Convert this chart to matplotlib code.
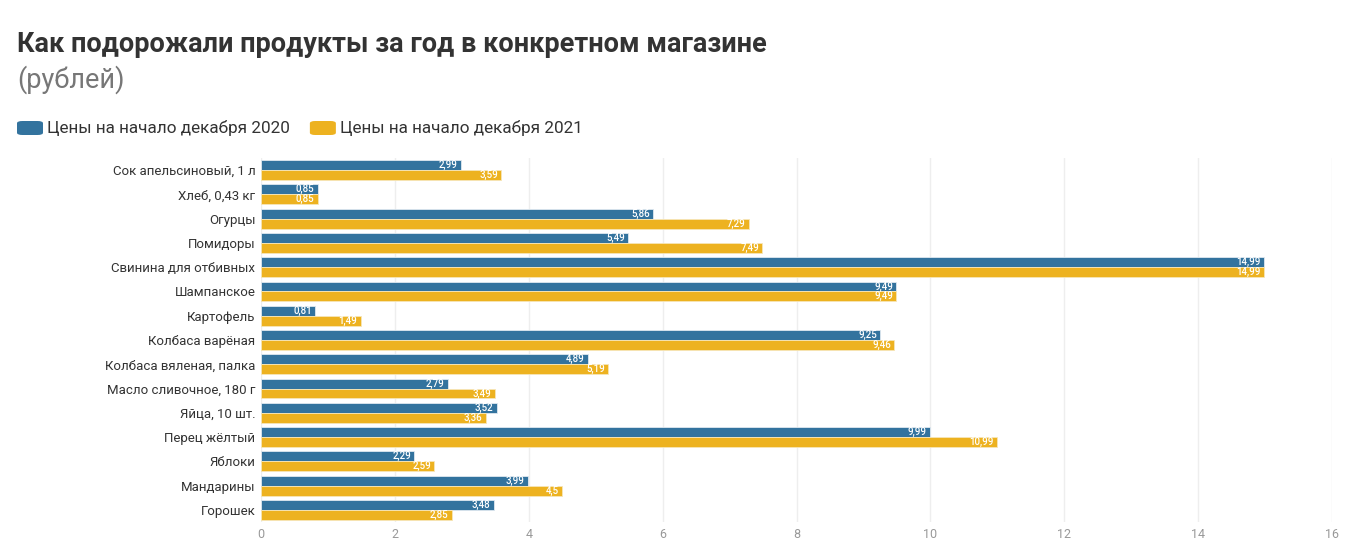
import numpy as np
import matplotlib.pyplot as plt
from matplotlib import font_manager
from matplotlib.patches import FancyBboxPatch

# Data
products = ['Сок апельсиновый, 1 л', 'Хлеб, 0,43 кг', 'Огурцы', 'Помидоры',
            'Свинина для отбивных', 'Шампанское', 'Картофель', 'Колбаса варёная',
            'Колбаса вяленая, палка', 'Масло сливочное, 180 г', 'Яйца, 10 шт.',
            'Перец жёлтый', 'Яблоки', 'Мандарины', 'Горошек']
prices_2020 = [2.99, 0.85, 5.86, 5.49, 14.99, 9.49, 0.81, 9.25, 4.89, 2.79, 3.52, 9.99, 2.29, 3.99, 3.48]
prices_2021 = [3.59, 0.85, 7.29, 7.49, 14.99, 9.49, 1.49, 9.46, 5.19, 3.49, 3.36, 10.99, 2.59, 4.5, 2.85]
series_names = ['Цены на начало декабря 2020', 'Цены на начало декабря 2021']
xticks = [0, 2, 4, 6, 8, 10, 12, 14, 16]

blue = '#33739e'
gold = '#edb220'
dark = '#333333'

names = {f.name for f in font_manager.fontManager.ttflist}
font = 'Liberation Sans Narrow' if 'Liberation Sans Narrow' in names else 'Roboto'
plt.rcParams['font.family'] = [font, 'DejaVu Sans']

W, H = 1354, 560
fig = plt.figure(figsize=(W / 100, H / 100), dpi=100)
ax = fig.add_axes([261 / W, 1 - 522 / H, (1332 - 261) / W, (522 - 158) / H])

y = np.arange(len(products))
h = 0.41
ax.barh(y - h / 2, prices_2020, height=h, color=blue, edgecolor='#dfe9f0', linewidth=0.6, zorder=3)
ax.barh(y + h / 2, prices_2021, height=h, color=gold, edgecolor='#f7e6b8', linewidth=0.6, zorder=3)

def fmt(v):
    return ('%g' % v).replace('.', ',')

for i in range(len(products)):
    ax.text(prices_2020[i] - 0.05, y[i] - h / 2, fmt(prices_2020[i]), ha='right', va='center',
            color='white', fontsize=7, fontweight='medium', zorder=4)
    ax.text(prices_2021[i] - 0.05, y[i] + h / 2, fmt(prices_2021[i]), ha='right', va='center',
            color='white', fontsize=7, fontweight='medium', zorder=4)

ax.set_xlim(0, 16)
ax.set_ylim(len(products) - 0.5, -0.5)
ax.set_yticks(y)
ax.set_yticklabels(products, fontsize=9.5, color=dark)
ax.set_xticks(xticks)
ax.set_xticklabels([str(t) for t in xticks], fontsize=9, color='#999999')
ax.tick_params(length=0, pad=4)
ax.grid(axis='x', color='#eeeeee', linewidth=1, zorder=0)
for s in ax.spines.values():
    s.set_visible(False)

fig.text(17 / W, 1 - 44 / H, 'Как подорожали продукты за год в конкретном магазине',
         fontsize=19.5, fontweight='bold', color=dark, va='center', ha='left')
fig.text(17 / W, 1 - 80 / H, '(рублей)', fontsize=19.5, color='#777777', va='center', ha='left')

# legend
lx = 17
for name, col in zip(series_names, [blue, gold]):
    box = FancyBboxPatch((lx / W, 1 - 135 / H), 26 / W, 14 / H,
                         boxstyle='round,pad=0,rounding_size=0.004', transform=fig.transFigure,
                         facecolor=col, edgecolor='none')
    fig.patches.append(box)
    t = fig.text((lx + 30) / W, 1 - 128 / H, name, fontsize=12.3, color=dark, va='center', ha='left')
    fig.canvas.draw()
    bb = t.get_window_extent()
    lx = bb.x1 + 20

fig.savefig('out.png', dpi=100)
